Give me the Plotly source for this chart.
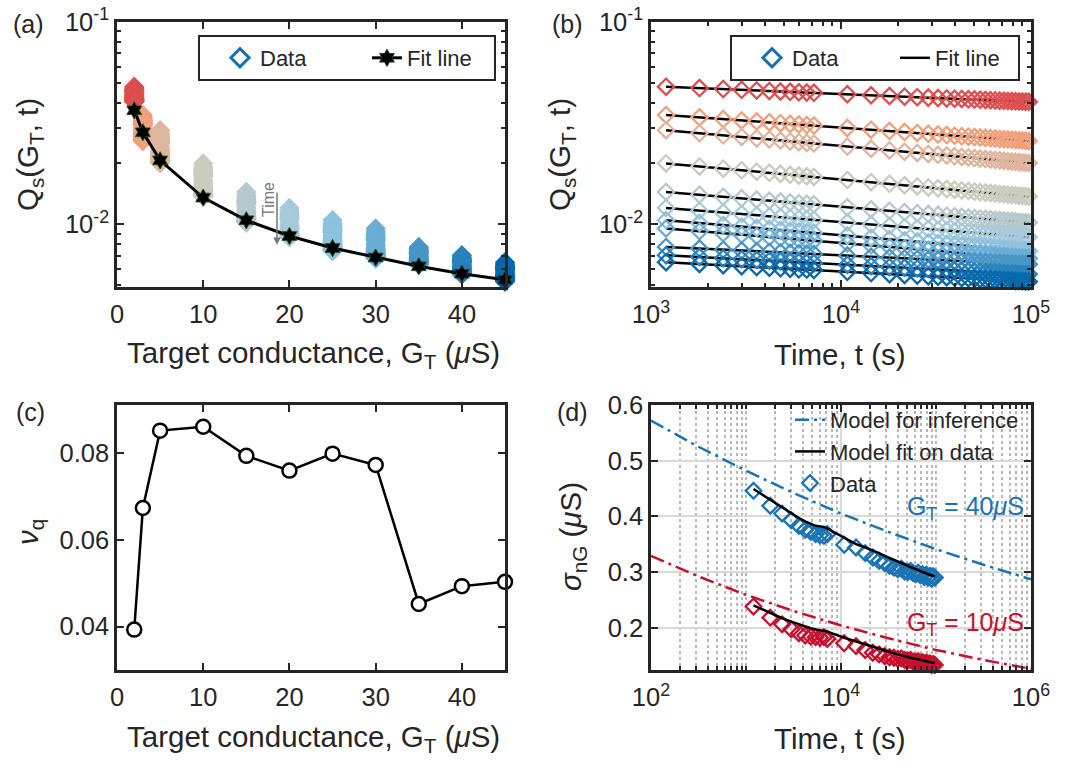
import plotly.graph_objects as go

W, H = 1069, 763
FONT = "Liberation Sans, Arial, sans-serif"
TXT = "#262626"

# ---------------- data ----------------
g_t = [2, 3, 5, 10, 15, 20, 25, 30, 35, 40, 45]
time_s = [1200, 1800, 2400, 3000, 3600, 4200, 4800, 5400, 6000, 6600, 7200,
          10800, 14400, 18000, 21600, 25200, 28800, 32400, 36000, 39600, 43200,
          46800, 50400, 54000, 57600, 61200, 64800, 68400, 72000, 75600, 79200,
          82800, 86400, 90000, 93600, 97200]

q_2 = [.0479, .04714, .04661, .04620, .04587, .04560, .04536, .04515, .04496, .04480, .04464,
       .04394, .04345, .04306, .04276, .04250, .04228, .04208, .04191, .04175, .04161, .04148,
       .04136, .04124, .04114, .04104, .04095, .04086, .04078, .04070, .04063, .04056, .04049,
       .04042, .04036, .04030]
q_3 = [.0347, .03377, .03312, .03263, .03223, .03190, .03161, .03136, .03114, .03094, .03076,
       .02993, .02936, .02892, .02857, .02827, .02802, .02780, .02760, .02742, .02726, .02712,
       .02698, .02686, .02674, .02663, .02653, .02643, .02634, .02626, .02617, .02610, .02602,
       .02595, .02588, .02582]
q_5 = [.0292, .02821, .02753, .02701, .02659, .02625, .02595, .02569, .02546, .02526, .02507,
       .02422, .02363, .02319, .02283, .02253, .02228, .02206, .02186, .02168, .02152, .02138,
       .02124, .02112, .02100, .02090, .02079, .02070, .02061, .02052, .02044, .02037, .02029,
       .02022, .02015, .02009]
q_10 = [.0200, .01931, .01884, .01848, .01820, .01796, .01775, .01757, .01742, .01727, .01714,
        .01656, .01615, .01585, .01560, .01539, .01522, .01506, .01493, .01481, .01470, .01460,
        .01450, .01442, .01434, .01426, .01419, .01413, .01406, .01401, .01395, .01390, .01385,
        .01380, .01375, .01371]
q_15 = [.01445, .01399, .01368, .01344, .01324, .01308, .01295, .01283, .01272, .01262, .01254,
        .01214, .01187, .01166, .01149, .01135, .01123, .01113, .01103, .01095, .01088, .01081,
        .01074, .01068, .01063, .01058, .01053, .01049, .01044, .01040, .01037, .01033, .01029,
        .01026, .01023, .01020]
q_20 = [.01205, .01168, .01143, .01124, .01109, .01096, .01085, .01075, .01066, .01059, .01052,
        .01020, .00998, .00981, .00968, .00956, .00947, .00938, .00931, .00924, .00918, .00913,
        .00907, .00903, .00898, .00894, .00890, .00887, .00883, .00880, .00877, .00874, .00871,
        .00868, .00866, .00863]
q_25 = [.01047, .01014, .00991, .00973, .00959, .00947, .00937, .00929, .00921, .00914, .00908,
        .00879, .00859, .00844, .00831, .00821, .00812, .00805, .00798, .00792, .00787, .00782,
        .00777, .00773, .00769, .00765, .00761, .00758, .00755, .00752, .00749, .00747, .00744,
        .00742, .00740, .00737]
q_30 = [.00953, .00924, .00903, .00888, .00876, .00865, .00856, .00849, .00842, .00835, .00830,
        .00804, .00787, .00773, .00762, .00753, .00746, .00739, .00733, .00728, .00723, .00718,
        .00714, .00710, .00707, .00704, .00700, .00697, .00695, .00692, .00690, .00687, .00685,
        .00683, .00681, .00679]
q_35 = [.00773, .00759, .00749, .00742, .00736, .00730, .00726, .00722, .00719, .00716, .00713,
        .00700, .00691, .00684, .00678, .00674, .00670, .00666, .00663, .00660, .00657, .00655,
        .00653, .00651, .00649, .00647, .00645, .00644, .00642, .00641, .00640, .00638, .00637,
        .00636, .00635, .00634]
q_40 = [.00703, .00689, .00679, .00672, .00666, .00661, .00657, .00653, .00649, .00646, .00644,
        .00631, .00622, .00615, .00610, .00605, .00601, .00598, .00595, .00592, .00589, .00587,
        .00585, .00583, .00581, .00579, .00578, .00576, .00574, .00573, .00572, .00571, .00569,
        .00568, .00567, .00566]
q_45 = [.00650, .00637, .00628, .00621, .00615, .00610, .00606, .00603, .00599, .00597, .00594,
        .00582, .00574, .00567, .00562, .00558, .00554, .00551, .00548, .00545, .00543, .00541,
        .00539, .00537, .00535, .00533, .00532, .00530, .00529, .00528, .00527, .00525, .00524,
        .00523, .00522, .00521]

# fit lines of panel (b): value at first and last time
fit_b_start = [.0479, .0347, .0292, .0200, .01445, .01205, .01047, .00953, .00773, .00703, .00650]
fit_b_end = [.0403, .0258, .0201, .0137, .0102, .00863, .00737, .00679, .00634, .00566, .00521]

# fit line of panel (a)
fit_a = [0.0366, 0.0285, 0.0207, 0.01355, 0.01047, 0.00875, 0.00763, 0.00685, 0.00620, 0.00570, 0.00532]

# panel (c)
nu_q = [0.0393, 0.0673, 0.0851, 0.0860, 0.0793, 0.0759, 0.0798, 0.0772, 0.0452, 0.0493, 0.0503]

# panel (d)
sigma_40 = [.446, .419, .405, .393, .383, .376, .372, .368, .366, .365, .368,
            .349, .344, .334, .326, .320, .316, .311, .308, .305, .306, .301,
            .300, .302, .298, .296, .299, .294, .296, .291, .295, .290, .293,
            .288, .292, .290]
fit_40 = [.449, .430, .416, .405, .397, .391, .386, .383, .382, .381, .378,
          .362, .350, .344, .339, .334, .329, .325, .322, .319, .316, .313,
          .311, .309, .307, .305, .303, .301, .300, .298, .297, .296, .295,
          .294, .293, .292]
sigma_10 = [.238, .218, .206, .197, .190, .186, .184, .183, .182, .183, .180,
            .172, .167, .160, .155, .152, .149, .147, .146, .144, .145, .142,
            .141, .142, .139, .139, .140, .137, .138, .136, .137, .135, .136,
            .133, .135, .133]
fit_10 = [.240, .226, .217, .211, .206, .202, .199, .197, .196, .195, .193,
          .182, .175, .170, .166, .162, .159, .156, .154, .152, .150, .149,
          .147, .146, .145, .144, .143, .142, .141, .140, .139, .139, .138,
          .137, .137, .136]
model_t = [1e2, 3.162e2, 1e3, 3.162e3, 1e4, 3.162e4, 1e5, 3.162e5, 1e6]
model_40 = [.572, .525, .482, .442, .405, .372, .341, .313, .287]
model_10 = [.329, .292, .259, .230, .204, .181, .160, .142, .126]

series_q = [q_2, q_3, q_5, q_10, q_15, q_20, q_25, q_30, q_35, q_40, q_45]
colors = ['#DC5050', '#F0A07C', '#DEB6A0', '#CACCBF', '#B6C9CB', '#A6CAD9',
          '#8EC1DD', '#6CADD5', '#4896C7', '#2A82BE', '#0868AC']
LEG_BLUE = '#1770B0'
D_BLUE = '#1A73B3'
D_RED = '#C8102E'

fig = go.Figure()

# ---------------- panel (a) ----------------
for gt, q, c in zip(g_t, series_q, colors):
    fig.add_trace(go.Scatter(x=[gt] * len(q), y=q, mode='markers', xaxis='x', yaxis='y',
                             marker=dict(symbol='diamond', size=14, color=c, line=dict(color=c, width=1.5)),
                             showlegend=False, cliponaxis=False, hoverinfo='skip'))
fig.add_trace(go.Scatter(x=[None], y=[None], mode='markers', xaxis='x', yaxis='y', name='Data',
                         marker=dict(symbol='diamond-open', size=14, color=LEG_BLUE, line=dict(width=3)),
                         legend='legend', legendrank=1))
fig.add_trace(go.Scatter(x=g_t, y=fit_a, mode='lines+markers', xaxis='x', yaxis='y', name='Fit line',
                         line=dict(color='black', width=3),
                         marker=dict(symbol='hexagram', size=13, color='black', line=dict(color='#1f4a22', width=1)),
                         legend='legend', legendrank=2, cliponaxis=False))

# ---------------- panel (b) ----------------
for i, (s, e) in enumerate(zip(fit_b_start, fit_b_end)):
    fig.add_trace(go.Scatter(x=[time_s[0], time_s[-1]], y=[s, e], mode='lines', xaxis='x2', yaxis='y2',
                             line=dict(color='black', width=2.5), name='Fit line',
                             showlegend=(i == 0), legend='legend2', legendrank=2))
for q, c in zip(series_q, colors):
    fig.add_trace(go.Scatter(x=time_s, y=q, mode='markers', xaxis='x2', yaxis='y2',
                             marker=dict(symbol='diamond-open', size=12.5, color=c, line=dict(width=2.3)),
                             showlegend=False, cliponaxis=False, hoverinfo='skip'))
fig.add_trace(go.Scatter(x=[None], y=[None], mode='markers', xaxis='x2', yaxis='y2', name='Data',
                         marker=dict(symbol='diamond-open', size=14, color=LEG_BLUE, line=dict(width=3)),
                         legend='legend2', legendrank=1))

# ---------------- panel (c) ----------------
fig.add_trace(go.Scatter(x=g_t, y=nu_q, mode='lines+markers', xaxis='x3', yaxis='y3',
                         line=dict(color='black', width=2.5),
                         marker=dict(symbol='circle', size=14, color='white', line=dict(color='black', width=2.5)),
                         showlegend=False, cliponaxis=False))

# ---------------- panel (d) ----------------
DASHDOT = '14px,5px,3px,5px'
fig.add_trace(go.Scatter(x=model_t, y=model_40, mode='lines', xaxis='x4', yaxis='y4',
                         line=dict(color=D_BLUE, width=2.5, dash=DASHDOT), name='Model for inference',
                         legend='legend3', legendrank=1))
fig.add_trace(go.Scatter(x=model_t, y=model_10, mode='lines', xaxis='x4', yaxis='y4',
                         line=dict(color=D_RED, width=2.5, dash=DASHDOT), showlegend=False))
fig.add_trace(go.Scatter(x=time_s, y=sigma_40, mode='markers', xaxis='x4', yaxis='y4', name='Data',
                         marker=dict(symbol='diamond-open', size=12, color=D_BLUE, line=dict(width=2.3)),
                         legend='legend3', legendrank=3, cliponaxis=False))
fig.add_trace(go.Scatter(x=time_s, y=sigma_10, mode='markers', xaxis='x4', yaxis='y4',
                         marker=dict(symbol='diamond-open', size=12, color=D_RED, line=dict(width=2.3)),
                         showlegend=False, cliponaxis=False))
fig.add_trace(go.Scatter(x=time_s, y=fit_40, mode='lines', xaxis='x4', yaxis='y4', name='Model fit on data',
                         line=dict(color='black', width=2.5), legend='legend3', legendrank=2))
fig.add_trace(go.Scatter(x=time_s, y=fit_10, mode='lines', xaxis='x4', yaxis='y4',
                         line=dict(color='black', width=2.5), showlegend=False))

# ---------------- layout ----------------
def px_x(p):
    return p / W


def px_y(p):
    return 1 - p / H


dom_x_left = [px_x(117), px_x(505)]
dom_x_right = [px_x(651), px_x(1031)]
dom_y_top = [px_y(287), px_y(22)]
dom_y_bot = [px_y(670), px_y(405)]

TICKFONT = dict(family=FONT, size=25.5, color=TXT)


def axis(**kw):
    d = dict(showline=True, linecolor=TXT, linewidth=2.5, mirror='allticks', ticks='inside',
             ticklen=7, tickwidth=1.5, tickcolor=TXT, tickfont=TICKFONT, showgrid=False,
             zeroline=False, fixedrange=True, automargin=False)
    d.update(kw)
    return d


minor_q = [0.005, 0.006, 0.007, 0.008, 0.009, 0.02, 0.03, 0.04, 0.05, 0.06, 0.07, 0.08, 0.09]
minor_t_b = [2e3, 3e3, 4e3, 5e3, 6e3, 7e3, 8e3, 9e3, 2e4, 3e4, 4e4, 5e4, 6e4, 7e4, 8e4, 9e4]
minor_t_d = [m * 10 ** k for k in (2, 3, 4, 5) for m in range(1, 10) if not (m == 1 and k in (2, 4))]

LEGFONT = dict(family=FONT, size=22, color=TXT)

fig.update_layout(
    width=W, height=H, margin=dict(l=0, r=0, t=0, b=0, autoexpand=False),
    paper_bgcolor='white', plot_bgcolor='white',
    font=dict(family=FONT, color=TXT),
    xaxis=axis(domain=dom_x_left, anchor='y', range=[0, 45], tickvals=[0, 10, 20, 30, 40],
               ticklabelstandoff=3),
    yaxis=axis(domain=dom_y_top, anchor='x', type='log', range=[-2.31, -1], tickvals=[0.01, 0.1],
               ticktext=['10<sup>-2</sup>', '10<sup>-1</sup>'],
               minor=dict(tickvals=minor_q, ticks='inside', ticklen=4, tickcolor=TXT, tickwidth=1.5)),
    xaxis2=axis(domain=dom_x_right, anchor='y2', type='log', range=[3, 5], tickvals=[1e3, 1e4, 1e5],
                ticktext=['10<sup>3</sup>', '10<sup>4</sup>', '10<sup>5</sup>'], ticklabelstandoff=3,
                minor=dict(tickvals=minor_t_b, ticks='inside', ticklen=4, tickcolor=TXT, tickwidth=1.5)),
    yaxis2=axis(domain=dom_y_top, anchor='x2', type='log', range=[-2.31, -1], tickvals=[0.01, 0.1],
                ticktext=['10<sup>-2</sup>', '10<sup>-1</sup>'],
                minor=dict(tickvals=minor_q, ticks='inside', ticklen=4, tickcolor=TXT, tickwidth=1.5)),
    xaxis3=axis(domain=dom_x_left, anchor='y3', range=[0, 45], tickvals=[0, 10, 20, 30, 40],
                ticklabelstandoff=3),
    yaxis3=axis(domain=dom_y_bot, anchor='x3', range=[0.030, 0.091], tickvals=[0.04, 0.06, 0.08],
                ticktext=['0.04', '0.06', '0.08']),
    xaxis4=axis(domain=dom_x_right, anchor='y4', type='log', range=[2, 6], tickvals=[1e2, 1e4, 1e6],
                ticktext=['10<sup>2</sup>', '10<sup>4</sup>', '10<sup>6</sup>'], ticklabelstandoff=3,
                showgrid=True, gridcolor='#d9d9d9', gridwidth=1.5,
                minor=dict(tickvals=minor_t_d, ticks='inside', ticklen=4, tickcolor=TXT, tickwidth=1.5,
                           showgrid=True, griddash='dot', gridcolor='#b8b8b8', gridwidth=1.5)),
    yaxis4=axis(domain=dom_y_bot, anchor='x4', range=[0.124, 0.6], tickvals=[0.2, 0.3, 0.4, 0.5, 0.6],
                ticktext=['0.2', '0.3', '0.4', '0.5', '0.6'], showgrid=True, gridcolor='#d9d9d9', gridwidth=1.5),
    legend=dict(x=px_x(198), y=px_y(35), xanchor='left', yanchor='top', orientation='h',
                bgcolor='white', bordercolor=TXT, borderwidth=2, font=LEGFONT,
                entrywidth=82, indentation=20, itemclick=False, itemdoubleclick=False),
    legend2=dict(x=px_x(730), y=px_y(35), xanchor='left', yanchor='top', orientation='h',
                 bgcolor='white', bordercolor=TXT, borderwidth=2, font=LEGFONT,
                 entrywidth=78, indentation=20, itemclick=False, itemdoubleclick=False),
    legend3=dict(x=px_x(790), y=px_y(399), xanchor='left', yanchor='top', orientation='v',
                 bgcolor='rgba(0,0,0,0)', borderwidth=0, font=LEGFONT,
                 tracegroupgap=0, itemclick=False, itemdoubleclick=False),
)

ann = []


def add_text(text, xp, yp, size=29.5, angle=0, color=TXT, xanchor='center'):
    ann.append(dict(text=text, x=px_x(xp), y=px_y(yp), xref='paper', yref='paper', showarrow=False,
                    textangle=angle, xanchor=xanchor, yanchor='middle',
                    font=dict(family=FONT, size=size, color=color)))


gt_title = 'Target conductance, G<sub>T</sub> (<i>\u03bc</i>S)'
add_text(gt_title, 313, 354)
add_text(gt_title, 313, 738)
add_text('Time, t (s)', 840, 354)
add_text('Time, t (s)', 840, 738)
add_text('Q<sub>s</sub>(G<sub>T</sub>, t)', 29, 155, angle=-90)
add_text('Q<sub>s</sub>(G<sub>T</sub>, t)', 561, 155, angle=-90)
add_text('<i>\u03bd</i><sub>q</sub>', 29, 532, angle=-90)
add_text('<i>\u03c3</i><sub>nG</sub> (<i>\u03bc</i>S)', 572, 537, angle=-90)
add_text('(a)', 28, 24, size=25)
add_text('(b)', 567, 24, size=25)
add_text('(c)', 30, 412, size=25)
add_text('(d)', 572, 412, size=25)
add_text('G<sub>T</sub> = 40<i>\u03bc</i>S', 1026, 508, size=25, color=D_BLUE, xanchor='right')
add_text('G<sub>T</sub> = 10<i>\u03bc</i>S', 1026, 624, size=25, color=D_RED, xanchor='right')
add_text('Time', 268, 200, size=16, angle=-90, color='#777777')
ann.append(dict(text='', x=px_x(277), y=px_y(245), xref='paper', yref='paper', showarrow=True,
                ax=0, ay=-54, arrowhead=2, arrowsize=1, arrowwidth=1.5, arrowcolor='#777777'))
fig.update_layout(annotations=ann)

fig.write_html('out.html')
